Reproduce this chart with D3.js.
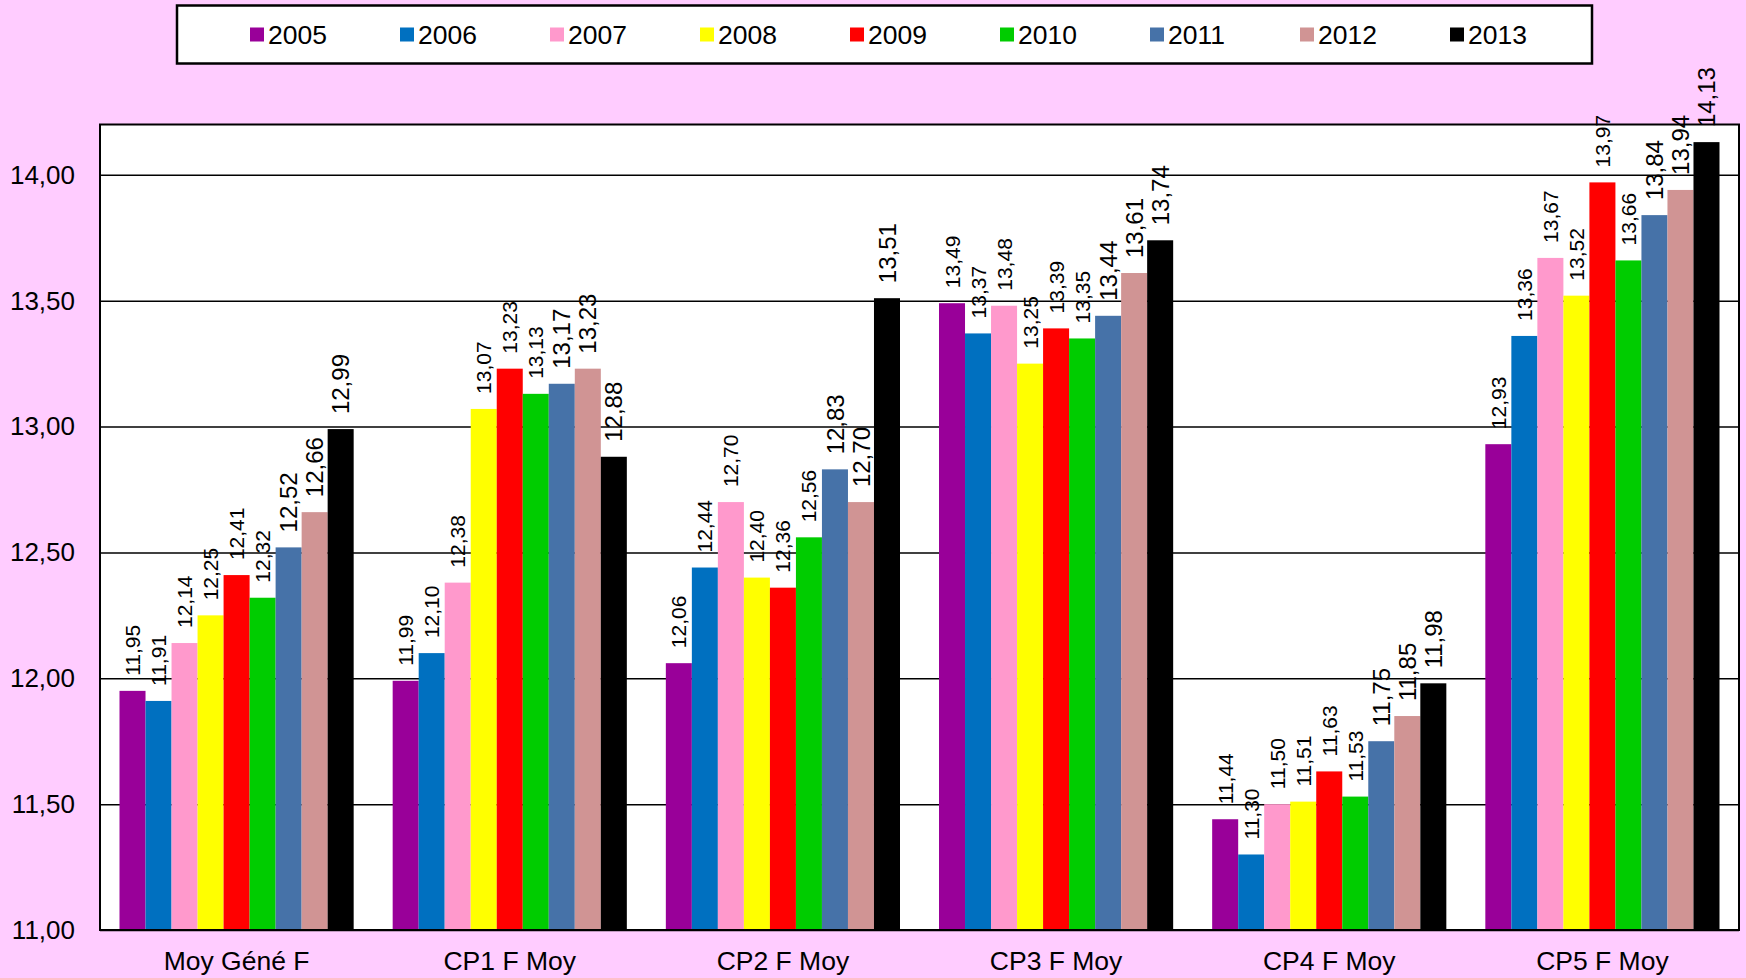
<!DOCTYPE html>
<html>
<head>
<meta charset="utf-8">
<script src="https://cdn.jsdelivr.net/npm/d3@7"></script>
<style>
    body { margin: 0; background: #FFCCFF; }
    svg { display: block; font-family: "Liberation Sans", Arial, sans-serif; }
</style>
</head>
<body>
<div id="chart"></div>
<script>
// categories and years
const categories = ['Moy Géné F', 'CP1 F Moy', 'CP2 F Moy', 'CP3 F Moy', 'CP4 F Moy', 'CP5 F Moy'];
const years = ['2005', '2006', '2007', '2008', '2009', '2010', '2011', '2012', '2013'];

// one array per year, in category order
const values2005 = [11.95, 11.99, 12.06, 13.49, 11.44, 12.93];
const values2006 = [11.91, 12.10, 12.44, 13.37, 11.30, 13.36];
const values2007 = [12.14, 12.38, 12.70, 13.48, 11.50, 13.67];
const values2008 = [12.25, 13.07, 12.40, 13.25, 11.51, 13.52];
const values2009 = [12.41, 13.23, 12.36, 13.39, 11.63, 13.97];
const values2010 = [12.32, 13.13, 12.56, 13.35, 11.53, 13.66];
const values2011 = [12.52, 13.17, 12.83, 13.44, 11.75, 13.84];
const values2012 = [12.66, 13.23, 12.70, 13.61, 11.85, 13.94];
const values2013 = [12.99, 12.88, 13.51, 13.74, 11.98, 14.13];

const yTicks = [11, 11.5, 12, 12.5, 13, 13.5, 14];

const colors = ['#990099', '#0070C0', '#FF99CC', '#FFFF00', '#FF0000', '#00CC00', '#4672A8', '#D09494', '#000000'];

const series = [values2005, values2006, values2007, values2008, values2009,
                values2010, values2011, values2012, values2013];

// flatten for drawing
const data = [];
series.forEach((vals, yi) => {
    vals.forEach((v, ci) => {
        data.push({cat: categories[ci], year: years[yi], yi: yi, value: v});
    });
});

const fmt = d => d.toFixed(2).replace('.', ',');

// dimensions
const margin = {top: 124.5, right: 7, bottom: 48, left: 100};
const totalW = 1746, totalH = 978;
const width = totalW - margin.left - margin.right;
const height = totalH - margin.top - margin.bottom;

const root = d3.select('#chart')
    .append('svg')
    .attr('width', totalW)
    .attr('height', totalH);

root.append('rect')
    .attr('width', totalW)
    .attr('height', totalH)
    .attr('fill', '#FFCCFF');

const svg = root.append('g')
    .attr('transform', `translate(${margin.left}, ${margin.top})`);

// scales
const x0 = d3.scaleBand()
    .domain(categories)
    .range([0, width]);

const groupPad = 19.5;
const x1 = d3.scaleBand()
    .domain(years)
    .range([groupPad, x0.bandwidth() - groupPad]);

const y = d3.scaleLinear()
    .domain([11, 14.2])
    .range([height, 0]);

// plot background
svg.append('rect')
    .attr('width', width)
    .attr('height', height)
    .attr('fill', '#ffffff');

// y axis with gridlines
const yAxis = svg.append('g')
    .call(d3.axisLeft(y)
        .tickValues(yTicks)
        .tickSize(-width)
        .tickPadding(25)
        .tickFormat(fmt));
yAxis.select('.domain').remove();
yAxis.selectAll('.tick line')
    .attr('stroke', '#000')
    .attr('stroke-width', 1.5);
yAxis.selectAll('.tick text')
    .attr('fill', '#000')
    .style('font-size', '26px');

// bars
svg.selectAll('.bar')
    .data(data)
    .enter()
    .append('rect')
    .attr('class', 'bar')
    .attr('x', d => x0(d.cat) + x1(d.year))
    .attr('y', d => y(d.value))
    .attr('width', x1.bandwidth())
    .attr('height', d => height - y(d.value))
    .attr('fill', d => colors[d.yi]);

// value labels, rotated
svg.selectAll('.lbl')
    .data(data)
    .enter()
    .append('text')
    .attr('class', 'lbl')
    .attr('transform', d => `translate(${x0(d.cat) + x1(d.year) + x1.bandwidth() / 2}, ${y(d.value) - 15}) rotate(-90)`)
    .attr('dy', '0.36em')
    .attr('text-anchor', 'start')
    .style('font-size', d => d.yi >= 6 ? '24px' : '21px')
    .attr('fill', '#000')
    .text(d => fmt(d.value));

// plot border
svg.append('rect')
    .attr('width', width)
    .attr('height', height)
    .attr('fill', 'none')
    .attr('stroke', '#000')
    .attr('stroke-width', 2);

// x axis labels
const xAxis = svg.append('g')
    .attr('transform', `translate(0, ${height})`)
    .call(d3.axisBottom(x0).tickSize(0).tickPadding(21));
xAxis.select('.domain').remove();
xAxis.selectAll('.tick text')
    .attr('fill', '#000')
    .style('font-size', '26.5px');

// legend
const legend = root.append('g');
legend.append('rect')
    .attr('x', 177)
    .attr('y', 5.5)
    .attr('width', 1415)
    .attr('height', 58)
    .attr('fill', '#ffffff')
    .attr('stroke', '#000')
    .attr('stroke-width', 2.5);

const legendX = d3.scalePoint()
    .domain(years)
    .range([250, 1450]);

const item = legend.selectAll('.item')
    .data(years)
    .enter()
    .append('g')
    .attr('class', 'item')
    .attr('transform', d => `translate(${legendX(d)}, 34.5)`);

item.append('rect')
    .attr('x', 0)
    .attr('y', -7)
    .attr('width', 14)
    .attr('height', 14)
    .attr('fill', (d, i) => colors[i]);

item.append('text')
    .attr('x', 18)
    .attr('dy', '0.36em')
    .style('font-size', '26.5px')
    .attr('fill', '#000')
    .text(d => d);
</script>
</body>
</html>
